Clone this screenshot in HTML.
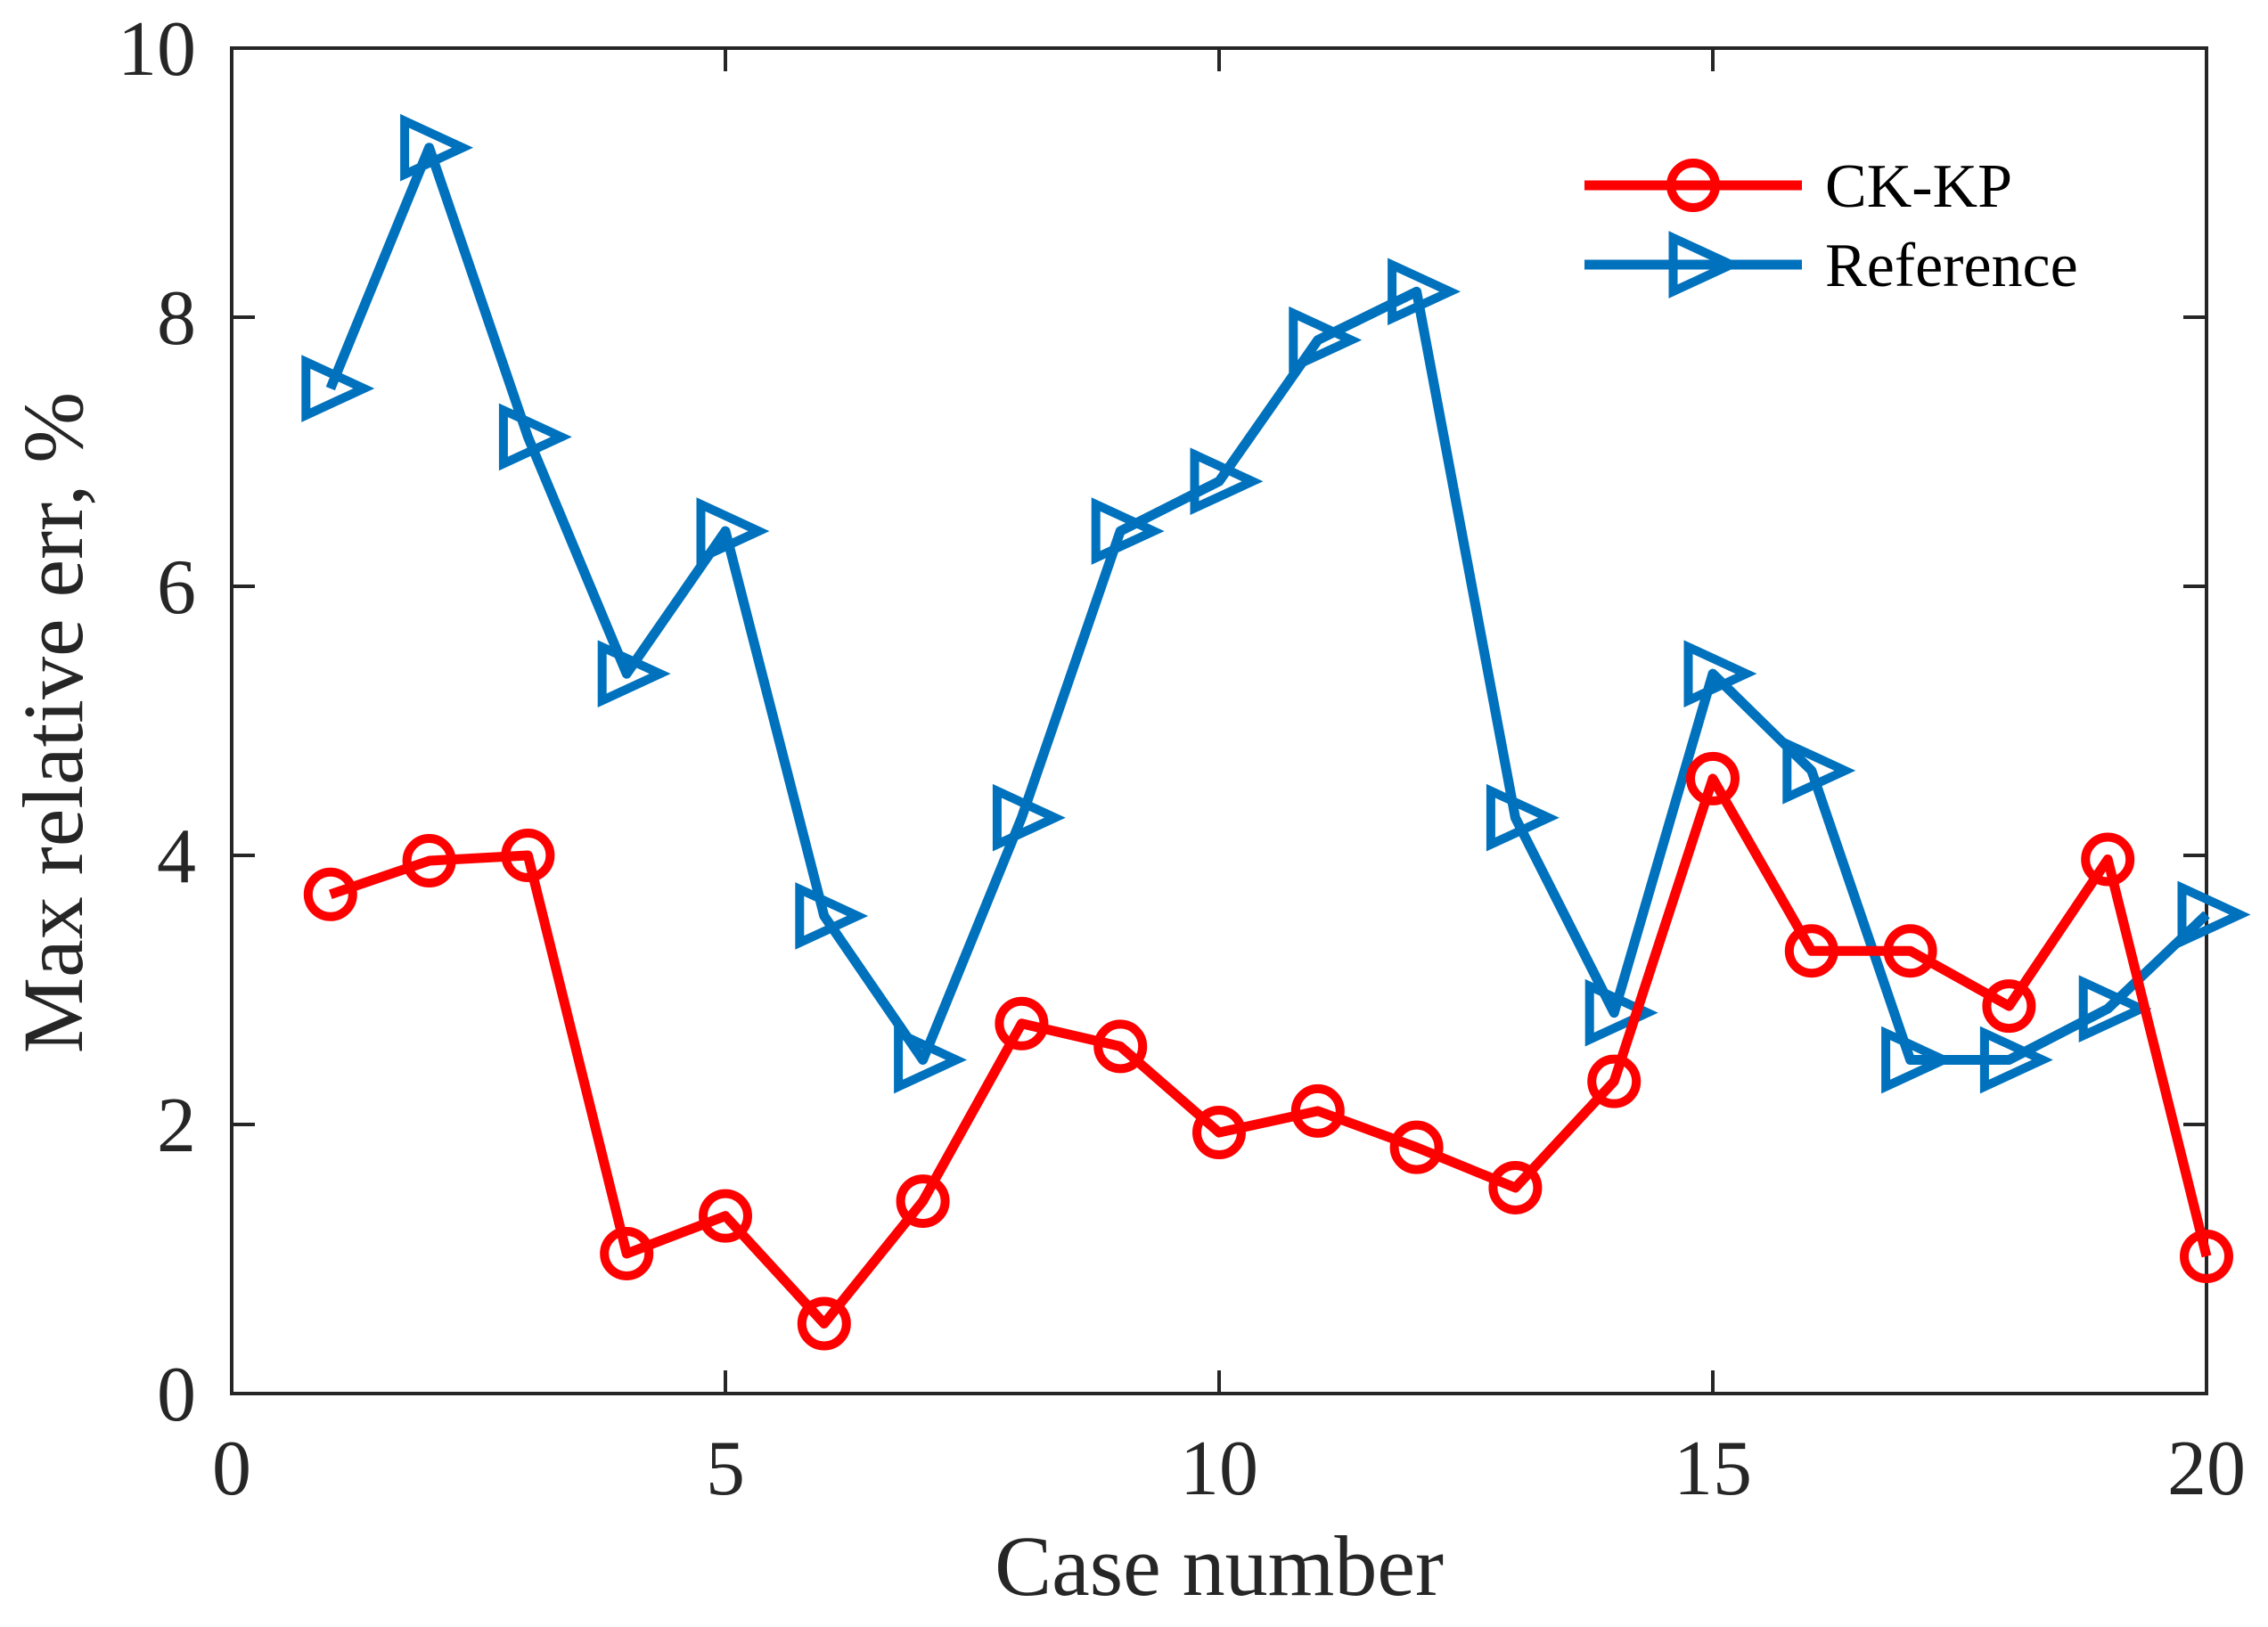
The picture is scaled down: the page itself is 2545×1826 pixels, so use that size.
<!DOCTYPE html>
<html><head><meta charset="utf-8"><style>
html,body{margin:0;padding:0;background:#fff;}
svg{display:block;font-family:"Liberation Serif",serif;}
</style></head><body>
<svg id="chart" width="2545" height="1826" viewBox="0 0 2545 1826" xmlns="http://www.w3.org/2000/svg">
<rect width="2545" height="1826" fill="#fff"/>
<g id="plot"></g>
</svg>
<script>
const cases = [1,2,3,4,5,6,7,8,9,10,11,12,13,14,15,16,17,18,19,20];
const ckkpValues = [3.71,3.96,4.0,1.04,1.32,0.52,1.43,2.75,2.58,1.94,2.1,1.83,1.53,2.32,4.57,3.29,3.29,2.88,3.97,1.02];
const referenceValues = [7.47,9.26,7.11,5.35,6.41,3.55,2.48,4.28,6.41,6.78,7.83,8.19,4.28,2.83,5.35,4.63,2.48,2.48,2.86,3.56];
const xTicks = [0,5,10,15,20];
const yTicks = [0,2,4,6,8,10];

const L=260,R=2476,T=54,B=1564;
const xMin=0,xMax=20,yMin=0,yMax=10;
const sx=v=>L+(v-xMin)/(xMax-xMin)*(R-L);
const sy=v=>B-(v-yMin)/(yMax-yMin)*(B-T);
const NS='http://www.w3.org/2000/svg';
const g=document.getElementById('plot');
function mk(tag,attrs,parent){const e=document.createElementNS(NS,tag);for(const k in attrs)e.setAttribute(k,attrs[k]);(parent||g).appendChild(e);return e;}

const box=mk('rect',{x:L,y:T,width:R-L,height:B-T,fill:'none',stroke:'#262626','stroke-width':4});


const tl=26;
xTicks.forEach(t=>{
  const x=sx(t);
  const a=mk('line',{x1:x,y1:B,x2:x,y2:B-tl,stroke:'#262626','stroke-width':4});
  
  
  const b=mk('line',{x1:x,y1:T,x2:x,y2:T+tl,stroke:'#262626','stroke-width':4});
  
  
  const tx=mk('text',{x:x,y:1677,'text-anchor':'middle','font-size':88,fill:'#262626'});
  tx.textContent=t;
  
  
});
yTicks.forEach(t=>{
  const y=sy(t);
  const a=mk('line',{x1:L,y1:y,x2:L+tl,y2:y,stroke:'#262626','stroke-width':4});
  
  
  const b=mk('line',{x1:R,y1:y,x2:R-tl,y2:y,stroke:'#262626','stroke-width':4});
  
  
  const tx=mk('text',{x:220,y:y+30,'text-anchor':'end','font-size':88,fill:'#262626'});
  tx.textContent=t;
  
  
});
const xl=mk('text',{x:1368,y:1790,'text-anchor':'middle','font-size':96,fill:'#262626'});
xl.textContent='Case number';


const yl=mk('text',{x:0,y:0,'text-anchor':'middle','font-size':96,fill:'#262626',transform:'translate(92,811) rotate(-90)'});
yl.textContent='Max relative err, %';



function tri(cx,cy,s){return `${cx-s*0.55},${cy-s*0.6} ${cx+s*0.75},${cy} ${cx-s*0.55},${cy+s*0.6}`;}

const refPts=cases.map((c,i)=>sx(c)+','+sy(referenceValues[i])).join(' ');
const rl=mk('polyline',{points:refPts,fill:'none',stroke:'#0072bd','stroke-width':11,'stroke-linejoin':'round'});


cases.forEach((c,i)=>{
  const m=mk('polygon',{points:tri(sx(c),sy(referenceValues[i]),50),fill:'none',stroke:'#0072bd','stroke-width':10});
  
  
});
const ckPts=cases.map((c,i)=>sx(c)+','+sy(ckkpValues[i])).join(' ');
const cl=mk('polyline',{points:ckPts,fill:'none',stroke:'#ff0000','stroke-width':11,'stroke-linejoin':'round'});


cases.forEach((c,i)=>{
  const m=mk('circle',{cx:sx(c),cy:sy(ckkpValues[i]),r:25,fill:'none',stroke:'#ff0000','stroke-width':10});
  
  
});

const l1=mk('line',{x1:1778,y1:208,x2:2022,y2:208,stroke:'#ff0000','stroke-width':11});


const c1=mk('circle',{cx:1900,cy:208,r:25,fill:'none',stroke:'#ff0000','stroke-width':10});


const t1=mk('text',{x:2048,y:232,'font-size':70,fill:'#000'});
t1.textContent='CK-KP';


const l2=mk('line',{x1:1778,y1:297,x2:2022,y2:297,stroke:'#0072bd','stroke-width':11});


const p2=mk('polygon',{points:tri(1905,297,50),fill:'none',stroke:'#0072bd','stroke-width':10});


const t2=mk('text',{x:2048,y:321,'font-size':70,fill:'#000'});
t2.textContent='Reference';


</script>
</body></html>
